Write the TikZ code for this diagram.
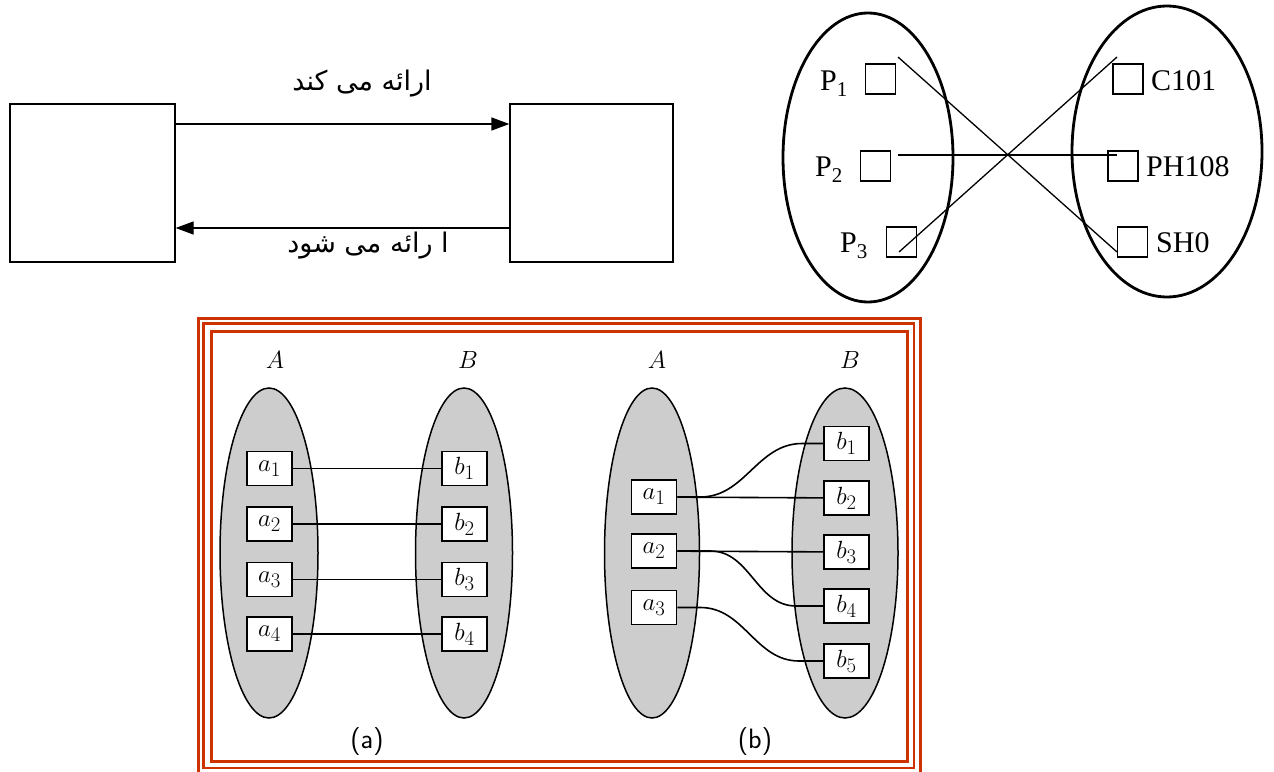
\documentclass[tikz,border=0pt]{standalone}
\usepackage{fontspec}
\setmainfont{Liberation Serif}
\newfontfamily\arabicfont[Script=Arabic]{DejaVu Sans}
\TeXXeTstate=1
\usetikzlibrary{shapes.geometric,arrows.meta}
\definecolor{framered}{RGB}{204,51,0}
\definecolor{setgray}{RGB}{205,205,205}
\newcommand\Psub[1]{P\raisebox{-0.2em}{\fontsize{21}{21}\selectfont #1}}
\begin{document}
\begin{tikzpicture}[x=1pt,y=-1pt,
  bigbox/.style={draw,line width=1.3pt,minimum height=158pt,inner sep=0pt},
  arr/.style={line width=1.3pt,-{Triangle[length=18pt,width=13pt]}},
  persian/.style={font=\arabicfont\fontsize{27}{32}\selectfont,inner sep=0pt},
  setell/.style={draw,ellipse,line width=2.8pt,inner sep=0pt},
  sq/.style={draw,line width=1.3pt,minimum size=30pt,inner sep=0pt},
  lbl/.style={font=\fontsize{30}{34}\selectfont,inner sep=0pt,anchor=base west},
  gell/.style={draw,ellipse,fill=setgray,line width=1.5pt,minimum height=330pt,inner sep=0pt},
  elt/.style={draw,fill=white,line width=1.8pt,minimum width=45pt,minimum height=34pt,inner sep=0pt,font=\fontsize{30}{32}\selectfont},
  link/.style={line width=1.6pt},
  thin/.style={line width=1.3pt},
  setname/.style={font=\fontsize{29}{32}\selectfont,inner sep=0pt},
  caption/.style={font=\fontsize{28}{32}\selectfont\sffamily,inner sep=0pt}
]
\useasboundingbox (0,0) rectangle (1274,771);
\clip (0,0) rectangle (1274,771);

% ---------- top left ----------
\node[bigbox,minimum width=165pt] (box1) at (92.5,183) {};
\node[bigbox,minimum width=163pt] (box2) at (591.5,183) {};
\coordinate (ytop) at (0,124);
\coordinate (ybot) at (0,228);
\draw[arr] (box1.east |- ytop) -- (box2.west |- ytop);
\draw[arr] (box2.west |- ybot) -- (box1.east |- ybot);
\node[persian] (t1) at (362,84) {\beginR ارائه می کند\endR};
\node[persian] (t2) at (368,246) {\beginR ا رائه می شود\endR};

% ---------- top right ----------
\node[setell,minimum width=170pt,minimum height=289pt] (L) at (868,157.5) {};
\node[setell,minimum width=190pt,minimum height=291pt] (R) at (1167,151.5) {};
\node[sq] (p1) at (880.5,79) {};
\node[sq] (p2) at (875.5,166) {};
\node[sq] (p3) at (901.5,242) {};
\node[sq] (c1) at (1128,79) {};
\node[sq] (c2) at (1123,166) {};
\node[sq] (c3) at (1132.5,242) {};
\node[lbl] (lp1) at (820,90) {\Psub{1}};
\node[lbl] (lp2) at (815,176) {\Psub{2}};
\node[lbl] (lp3) at (840,252) {\Psub{3}};
\node[lbl] (lc1) at (1151,90) {C101};
\node[lbl] (lc2) at (1146,176) {PH108};
\node[lbl] (lc3) at (1156,252) {SH0};
\coordinate (e1s) at (898,57);
\coordinate (e1t) at (1117,252);
\coordinate (e2s) at (898,155);
\coordinate (e2t) at (1117,155);
\coordinate (e3s) at (899,252);
\coordinate (e3t) at (1117,57);
\draw[thin] (e1s) -- (e1t);
\draw[thin] (e2s) -- (e2t);
\draw[thin] (e3s) -- (e3t);

% ---------- bottom frame ----------
\draw[framered,line width=3pt] (198,318) rectangle (920,776);
\draw[framered,line width=2.6pt] (203.5,323.5) rectangle (914,768);
\draw[framered,line width=3pt] (211,331) rectangle (907.5,761);

% ---------- (a) ----------
\node[gell,minimum width=98pt] (EA1) at (269,553) {};
\node[gell,minimum width=97pt] (EB1) at (464,553) {};
\node[setname] (nA1) at (275,360) {$A$};
\node[setname] (nB1) at (468,360) {$B$};
\foreach \i/\y in {1/468.5,2/524,3/579.5,4/634}{
  \node[elt] (a\i) at (269.5,\y) {$a_{\i}$};
  \node[elt] (b\i) at (464.5,\y) {$b_{\i}$};
}
\foreach \i in {1,...,4}{ \draw[link] (a\i) -- (b\i); }
\node[caption] (capa) at (367,742) {(a)};

% ---------- (b) ----------
\node[gell,minimum width=95pt] (EA2) at (652,553) {};
\node[gell,minimum width=106pt] (EB2) at (845,553) {};
\node[setname] (nA2) at (657,360) {$A$};
\node[setname] (nB2) at (850,360) {$B$};
\foreach \i/\y in {1/497,2/551,3/607.5}{
  \node[elt] (x\i) at (654,\y) {$a_{\i}$};
}
\foreach \i/\y in {1/443.5,2/498,3/552,4/606,5/661}{
  \node[elt] (y\i) at (846.5,\y) {$b_{\i}$};
}
\draw[link] (x1) -- (y2);
\draw[link] (x2) -- (y3);
\draw[link] (x1.east) -- ++(23,0) to[out=0,in=180] ([xshift=-21pt]y1.west) -- (y1.west);
\draw[link] (x2.east) -- ++(33,0) to[out=0,in=180] ([xshift=-27pt]y4.west) -- (y4.west);
\draw[link] (x3.east) -- ++(23,0) to[out=0,in=180] ([xshift=-24pt]y5.west) -- (y5.west);
\node[caption] (capb) at (755,742) {(b)};
\end{tikzpicture}
\end{document}
